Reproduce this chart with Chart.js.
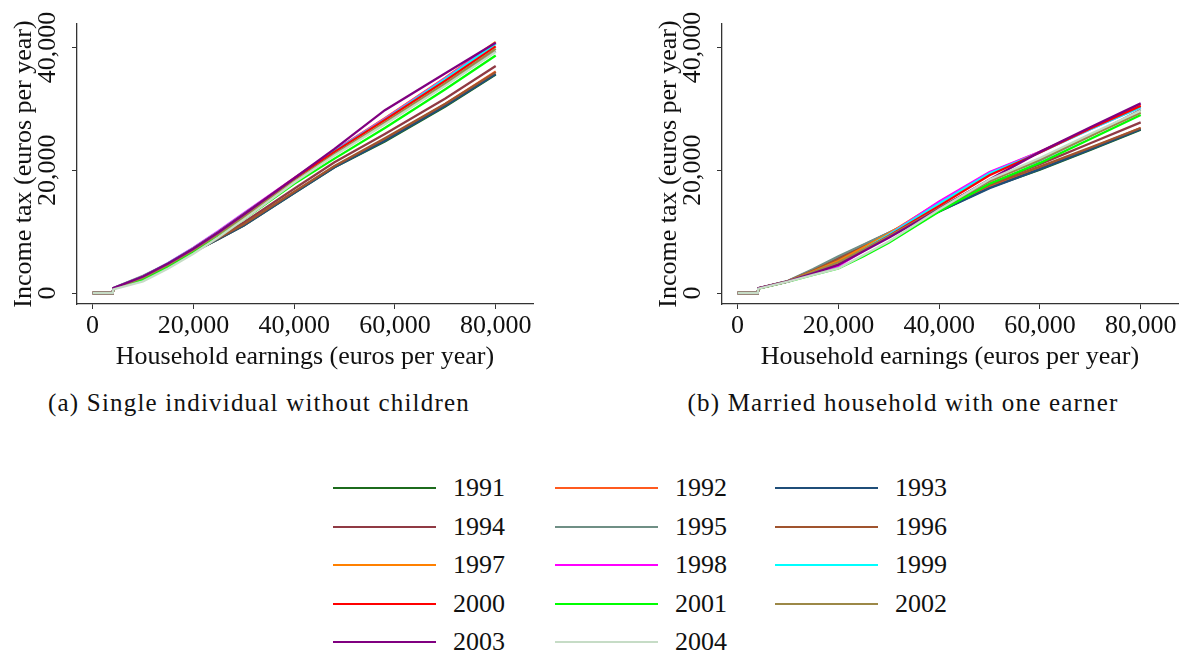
<!DOCTYPE html>
<html lang="en">
<head>
  <meta charset="UTF-8">
  <title>Income tax schedules</title>
  <script src="https://cdn.jsdelivr.net/npm/chart.js"></script>
  <style>
    body {
      margin: 0;
      width: 1182px;
      height: 653px;
      overflow: hidden;
      background: #ffffff;
      font-family: "Liberation Serif", "Times New Roman", serif;
      color: #111;
    }

    .panel {
      position: absolute;
      top: 0;
      width: 537px;
      height: 380px;
    }

    .caption {
      position: absolute;
      top: 388px;
      height: 30px;
      line-height: 30px;
      font-size: 25px;
      letter-spacing: 1.2px;
      text-align: center;
      white-space: nowrap;
    }

    .legend-item {
      position: absolute;
      height: 30px;
      line-height: 30px;
      font-size: 26px;
    }

    .legend-line {
      position: absolute;
      top: 14px;
      left: 0;
      width: 103px;
      height: 2px;
    }

    .legend-text {
      position: absolute;
      left: 120px;
      top: 0;
    }
  </style>
</head>
<body>
  <div class="panel" style="left:0px"><canvas id="singleChart" width="537" height="380"></canvas></div>
  <div class="panel" style="left:645px"><canvas id="marriedChart" width="537" height="380"></canvas></div>

  <div class="caption" style="left:0px; width:518px">(a) Single individual without children</div>
  <div class="caption" style="left:645px; width:516px">(b) Married household with one earner</div>

  <div id="legend"></div>

  <script>
    // Years and line colours
    const years = ["1991", "1992", "1993", "1994", "1995", "1996", "1997",
                   "1998", "1999", "2000", "2001", "2002", "2003", "2004"];
    const colors = ["#1c6b1c", "#ff5a1f", "#1f4e79", "#903a44", "#6f8f85", "#a0542e", "#ff8000",
                    "#ff00ff", "#00ffff", "#ff0000", "#00ff00", "#9c8847", "#800080", "#c6dcc6"];

    const xTicks = [0, 20000, 40000, 60000, 80000];
    const yTicks = [0, 20000, 40000];

    // (a) Single individual without children
    const earningsSingle = [0, 4000, 4100, 10000, 15000, 20000, 25000, 30000, 40000, 48000, 58000, 70000, 80000];
    const single1991 = [0, 0, 700, 2500, 4450, 6700, 8800, 11000, 16300, 20500, 24700, 30400, 35600];
    const single1992 = [0, 0, 700, 2500, 4450, 6700, 8850, 11100, 16400, 20600, 25000, 30800, 36100];
    const single1993 = [0, 0, 700, 2500, 4450, 6700, 8800, 11000, 16300, 20500, 24800, 30500, 35700];
    const single1994 = [0, 0, 700, 2600, 4600, 6900, 9100, 11500, 17000, 21300, 25900, 31700, 37000];
    const single1995 = [0, 0, 800, 2800, 4800, 7100, 9700, 12500, 18200, 22600, 27600, 33900, 39400];
    const single1996 = [0, 0, 700, 2500, 4500, 6800, 8950, 11200, 16500, 20700, 25200, 30850, 36000];
    const single1997 = [0, 0, 750, 2700, 4850, 7300, 10000, 12900, 18700, 23200, 28500, 35100, 40900];
    const single1998 = [0, 0, 750, 2700, 4900, 7400, 10100, 13000, 18700, 23200, 28400, 35000, 40700];
    const single1999 = [0, 0, 750, 2700, 4850, 7300, 10000, 12900, 18600, 23100, 28300, 34900, 40600];
    const single2000 = [0, 0, 700, 2600, 4750, 7200, 9900, 12800, 18600, 23000, 28200, 34600, 40200];
    const single2001 = [0, 0, 650, 2200, 4250, 6600, 9200, 12000, 17800, 21900, 26900, 33200, 38700];
    const single2002 = [0, 0, 700, 2500, 4600, 7000, 9600, 12400, 18200, 22600, 27800, 34200, 39800];
    const single2003 = [0, 0, 800, 2700, 4800, 7200, 9900, 12800, 18700, 23500, 29800, 35800, 40800];
    const single2004 = [0, 0, 600, 1900, 4000, 6400, 9100, 12000, 18000, 22400, 27500, 33800, 39300];

    // (b) Married household with one earner
    const earningsMarried = [0, 4000, 4100, 10000, 15000, 20000, 25000, 30000, 40000, 50000, 60000, 70000, 80000];
    const married1991 = [0, 0, 750, 1900, 3700, 5600, 7550, 9500, 13300, 17200, 20100, 23300, 26600];
    const married1992 = [0, 0, 750, 1900, 3750, 5700, 7650, 9600, 13500, 17300, 20400, 23600, 26900];
    const married1993 = [0, 0, 750, 1900, 3700, 5600, 7550, 9500, 13300, 17100, 20200, 23400, 26700];
    const married1994 = [0, 0, 750, 1950, 3800, 5800, 7800, 9800, 13700, 17800, 21000, 24400, 27800];
    const married1995 = [0, 0, 800, 2000, 3900, 6000, 7900, 9800, 13900, 18300, 21600, 25600, 29850];
    const married1996 = [0, 0, 750, 1900, 3650, 5500, 7500, 9500, 13600, 17600, 20600, 23700, 26900];
    const married1997 = [0, 0, 750, 1900, 3500, 5200, 7400, 9700, 14800, 19600, 23000, 26800, 30500];
    const married1998 = [0, 0, 750, 1900, 3100, 4400, 6900, 9500, 14900, 19700, 23000, 26700, 30300];
    const married1999 = [0, 0, 750, 1900, 3300, 4800, 7100, 9500, 14600, 19500, 22900, 26700, 30300];
    const married2000 = [0, 0, 750, 1900, 3300, 4800, 7000, 9300, 14200, 19200, 22900, 26800, 30500];
    const married2001 = [0, 0, 700, 1850, 2950, 4000, 6000, 8200, 13300, 17800, 21200, 25100, 29000];
    const married2002 = [0, 0, 750, 1900, 3400, 5000, 7100, 9200, 13800, 18200, 21800, 25600, 29400];
    const married2003 = [0, 0, 800, 1900, 3200, 4600, 6800, 9000, 13700, 18500, 23000, 27000, 30900];
    const married2004 = [0, 0, 700, 1850, 2950, 4000, 6200, 8400, 13600, 18500, 22000, 25900, 29700];

    const singleSeries = [single1991, single1992, single1993, single1994, single1995, single1996, single1997,
                          single1998, single1999, single2000, single2001, single2002, single2003, single2004];
    const marriedSeries = [married1991, married1992, married1993, married1994, married1995, married1996, married1997,
                           married1998, married1999, married2000, married2001, married2002, married2003, married2004];

    Chart.defaults.font.family = '"Liberation Serif", "Times New Roman", serif';
    Chart.defaults.color = '#111';

    const fmt = v => Number(v).toLocaleString('en-US');

    // y tick labels are rotated like the original, drawn along the y scale
    const rotatedYLabels = {
      id: 'rotatedYLabels',
      afterDraw(chart) {
        const s = chart.scales.y;
        const ctx = chart.ctx;
        ctx.save();
        ctx.font = '26px "Liberation Serif", serif';
        ctx.fillStyle = '#111';
        ctx.textAlign = 'center';
        ctx.textBaseline = 'middle';
        s.ticks.forEach(t => {
          ctx.save();
          ctx.translate(s.right - 29, s.getPixelForValue(t.value));
          ctx.rotate(-Math.PI / 2);
          ctx.fillText(fmt(t.value), 0, 0);
          ctx.restore();
        });
        ctx.restore();
      }
    };

    function makeChart(id, earnings, series) {
      const datasets = series.map((vals, i) => ({
        label: years[i],
        data: earnings.map((x, j) => ({ x: x, y: vals[j] })),
        borderColor: colors[i],
        backgroundColor: colors[i],
        borderWidth: 2.3,
        pointRadius: 0,
        tension: 0,
        order: series.length - i
      }));

      return new Chart(document.getElementById(id), {
        type: 'line',
        data: { datasets: datasets },
        plugins: [rotatedYLabels],
        options: {
          responsive: false,
          animation: false,
          layout: { padding: { top: 24, right: 4, left: 0, bottom: 0 } },
          plugins: {
            legend: { display: false },
            tooltip: { enabled: false }
          },
          scales: {
            x: {
              type: 'linear',
              min: -3100,
              max: 87400,
              afterBuildTicks: axis => { axis.ticks = xTicks.map(v => ({ value: v })); },
              afterFit: axis => { axis.height = 76; axis.paddingLeft = 0; axis.paddingRight = 0; },
              ticks: {
                font: { size: 26, lineHeight: 1 },
                color: '#111',
                padding: 4,
                maxRotation: 0,
                callback: v => fmt(v)
              },
              grid: { drawOnChartArea: false, drawTicks: true, tickLength: 5, color: '#333' },
              border: { display: true, color: '#333', width: 1.3 },
              title: {
                display: true,
                text: 'Household earnings (euros per year)',
                font: { size: 26, lineHeight: 1 },
                color: '#111',
                padding: { top: 0, bottom: 10 }
              }
            },
            y: {
              min: -1790,
              max: 43840,
              afterBuildTicks: axis => { axis.ticks = yTicks.map(v => ({ value: v })); },
              afterFit: axis => { axis.width = 77; axis.paddingTop = 0; axis.paddingBottom = 0; },
              ticks: { display: false },
              grid: { drawOnChartArea: false, drawTicks: true, tickLength: 5, color: '#333' },
              border: { display: true, color: '#333', width: 1.3 },
              title: {
                display: true,
                text: 'Income tax (euros per year)',
                font: { size: 26, lineHeight: 1 },
                color: '#111',
                padding: { top: 11, bottom: 0 }
              }
            }
          }
        }
      });
    }

    makeChart('singleChart', earningsSingle, singleSeries);
    makeChart('marriedChart', earningsMarried, marriedSeries);

    // Shared legend: three columns, five rows
    const legendCols = [333, 555, 775];
    const legendRows = [488, 527, 565, 604, 642];
    const legend = document.getElementById('legend');
    years.forEach((yr, i) => {
      const item = document.createElement('div');
      item.className = 'legend-item';
      item.style.left = legendCols[i % 3] + 'px';
      item.style.top = (legendRows[Math.floor(i / 3)] - 15) + 'px';
      item.innerHTML = '<div class="legend-line" style="background:' + colors[i] + '"></div>' +
                       '<div class="legend-text">' + yr + '</div>';
      legend.appendChild(item);
    });
  </script>
</body>
</html>
